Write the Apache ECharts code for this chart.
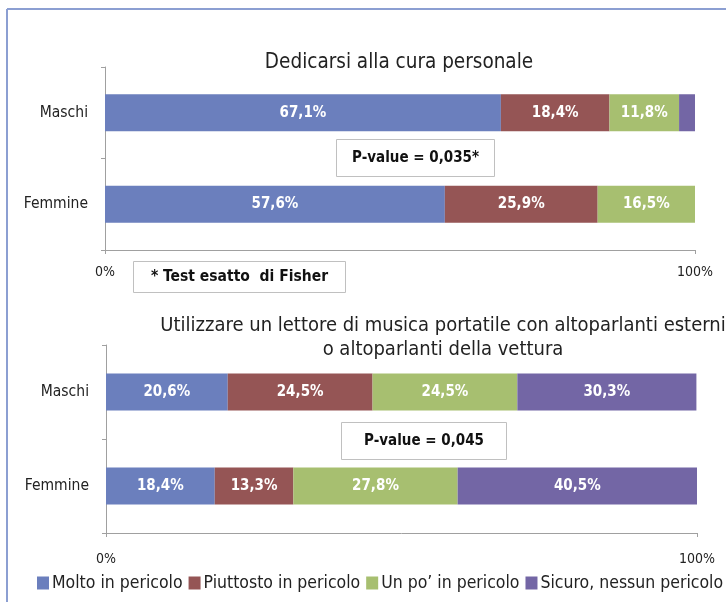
<!DOCTYPE html>
<html>
<head>
<meta charset="utf-8">
<script src="https://cdn.jsdelivr.net/npm/echarts@6/dist/echarts.min.js"></script>
<style>
html, body { margin: 0; padding: 0; background: #fff; }
#chart { width: 726px; height: 602px; }
</style>
</head>
<body>
<div id="chart"></div>
<script>
var categories = ['Maschi', 'Femmine'];
var seriesNames = ['Molto in pericolo', 'Piuttosto in pericolo', "Un po\u2019 in pericolo", 'Sicuro, nessun pericolo'];
var colors = ['#6b7fbd', '#955555', '#a7bf70', '#7366a5'];

// Dedicarsi alla cura personale
var cura = [
	[67.1, 57.6],
	[18.4, 25.9],
	[11.8, 16.5],
	[2.7, 0]
];
// Utilizzare un lettore di musica portatile ...
var musica = [
	[20.6, 18.4],
	[24.5, 13.3],
	[24.5, 27.8],
	[30.3, 40.5]
];
var titles = ['Dedicarsi alla cura personale',
	'Utilizzare un lettore di musica portatile con altoparlanti esterni\no altoparlanti della vettura'];

var font = "'Liberation Sans Narrow', 'DejaVu Sans Condensed', sans-serif";

var fmt = function(p){
	return p.value.toFixed(1).replace('.', ',') + '%';
};

function makeSeries(data, idx){
	return data.map(function(vals, i){
		return {
			name: seriesNames[i],
			type: 'bar',
			stack: 's' + idx,
			xAxisIndex: idx,
			yAxisIndex: idx,
			barWidth: 37,
			itemStyle: { color: colors[i] },
			label: {
				show: true,
				position: 'inside',
				color: '#fff',
				fontWeight: 'bold',
				fontSize: 15,
				fontFamily: font,
				formatter: function(p){
					return p.value < 5 ? '' : fmt(p);
				}
			},
			data: vals
		};
	});
}

var axisCol = '#a0a0a0';

function valueAxis(idx, margin){
	return {
		type: 'value', gridIndex: idx, min: 0, max: 100, interval: 100,
		axisLine: { show: true, lineStyle: { color: axisCol } },
		axisTick: { show: true, length: 4, lineStyle: { color: axisCol } },
		splitLine: { show: false },
		axisLabel: { formatter: '{value}%', color: '#222', fontSize: 14, fontFamily: font, margin: margin }
	};
}
function catAxis(idx){
	return {
		type: 'category', gridIndex: idx, data: categories, inverse: true,
		axisLine: { show: true, lineStyle: { color: axisCol } },
		axisTick: { show: true, length: 4, lineStyle: { color: axisCol } },
		axisLabel: { color: '#222', fontSize: 15.5, fontFamily: font, margin: 17 }
	};
}

var chart = echarts.init(document.getElementById('chart'));

var boxText = function(x, y, w, h, txt, size){
	return {
		type: 'group', left: x, top: y,
		children: [{
			type: 'rect', shape: { x: 0, y: 0, width: w, height: h },
			style: { fill: '#fff', stroke: '#c0c0c0', lineWidth: 1 }
		}, {
			type: 'text', x: w / 2, y: h / 2,
			style: { text: txt, fill: '#111', font: 'bold ' + size + 'px ' + font, textAlign: 'center', textVerticalAlign: 'middle' }
		}]
	};
};

chart.setOption({
	backgroundColor: '#fff',
	animation: false,
	color: colors,
	title: [{
		text: titles[0], left: 394, top: 47, textAlign: 'center',
		textStyle: { fontSize: 20.5, fontWeight: 'normal', color: '#222', fontFamily: font }
	}, {
		text: titles[1], left: 438, top: 309, textAlign: 'center',
		textStyle: { fontSize: 20, fontWeight: 'normal', color: '#222', fontFamily: font, lineHeight: 24 }
	}],
	legend: {
		data: seriesNames, left: 37, top: 574, width: 689, padding: 0, icon: 'rect',
		itemWidth: 12, itemHeight: 13, itemGap: 6,
		textStyle: { fontSize: 17.5, color: '#222', fontFamily: font, padding: [0, 0, 0, -2] }
	},
	grid: [
		{ left: 105, right: 31, top: 67, height: 183 },
		{ left: 106, right: 29, top: 345, height: 188 }
	],
	xAxis: [valueAxis(0, 15), valueAxis(1, 19)],
	yAxis: [catAxis(0), catAxis(1)],
	series: makeSeries(cura, 0).concat(makeSeries(musica, 1)),
	graphic: [
		{ type: 'line', shape: { x1: 7, y1: 9, x2: 726, y2: 9 }, style: { stroke: '#8c9fd2', lineWidth: 2 } },
		{ type: 'line', shape: { x1: 7, y1: 9, x2: 7, y2: 602 }, style: { stroke: '#8c9fd2', lineWidth: 2 } },
		boxText(336, 139, 158, 37, 'P-value = 0,035*', 15),
		boxText(133, 261, 212, 31, '* Test esatto  di Fisher', 15.5),
		boxText(341, 422, 165, 37, 'P-value = 0,045', 15)
	]
});
</script>
</body>
</html>
